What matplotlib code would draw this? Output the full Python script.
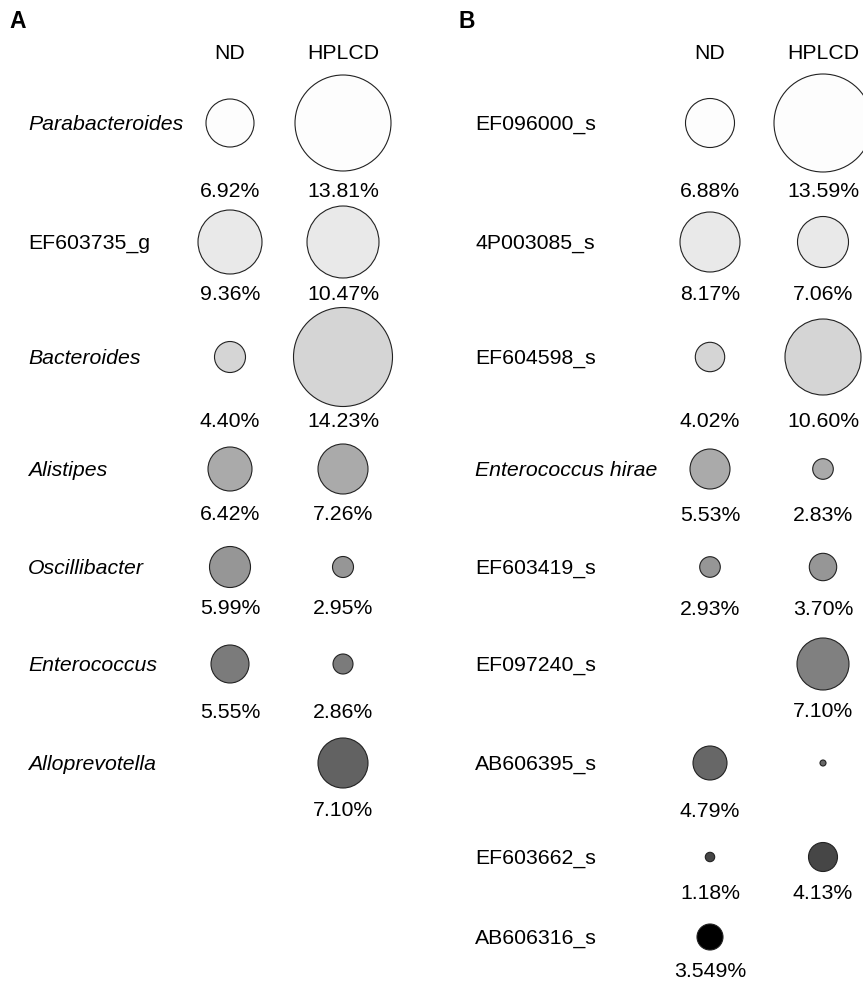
import matplotlib
matplotlib.use("Agg")
import matplotlib.pyplot as plt
from matplotlib.patches import Circle

plt.rcParams['font.family'] = ['Liberation Sans', 'DejaVu Sans']

# ---- data, panel A (genus level) ----
A_taxa = ['Parabacteroides', 'EF603735_g', 'Bacteroides', 'Alistipes',
          'Oscillibacter', 'Enterococcus', 'Alloprevotella']
A_italic = [True, False, True, True, True, True, True]
A_nd_pct = ['6.92%', '9.36%', '4.40%', '6.42%', '5.99%', '5.55%', None]
A_hp_pct = ['13.81%', '10.47%', '14.23%', '7.26%', '2.95%', '2.86%', '7.10%']
# bubble radii as drawn in the figure (not proportional to the values)
A_nd_size = [24, 32, 15.5, 22, 20.5, 19, 0]
A_hp_size = [48, 36, 49.5, 25, 10.5, 10, 25]
A_grey = ['#fdfdfd', '#e9e9e9', '#d5d5d5', '#aaaaaa', '#969696', '#7b7b7b', '#626262']

# ---- data, panel B (species level) ----
B_taxa = ['EF096000_s', '4P003085_s', 'EF604598_s', 'Enterococcus hirae',
          'EF603419_s', 'EF097240_s', 'AB606395_s', 'EF603662_s', 'AB606316_s']
B_italic = [False, False, False, True, False, False, False, False, False]
B_nd_pct = ['6.88%', '8.17%', '4.02%', '5.53%', '2.93%', None, '4.79%', '1.18%', '3.549%']
B_hp_pct = ['13.59%', '7.06%', '10.60%', '2.83%', '3.70%', '7.10%', None, '4.13%', None]
B_nd_size = [24.5, 30, 14.7, 20, 10.3, 0, 17, 4.7, 13]
B_hp_size = [49, 25.5, 38, 10.3, 13.7, 26, 3, 14.5, 0]
B_grey = ['#fdfdfd', '#e9e9e9', '#d5d5d5', '#aaaaaa', '#969696', '#808080',
          '#676767', '#464646', '#000000']

groups = ['ND', 'HPLCD']

# ---- layout (pixel canvas) ----
W, H = 863, 982
A_row_y = [123, 242, 357, 469, 567, 664, 763]
A_pct_y = [190, 293, 420, 513, 607, 711, 809]
B_row_y = [123, 242, 357, 469, 567, 664, 763, 857, 937]
B_pct_y = [190, 293, 420, 514, 608, 710, 810, 892, 970]

fig = plt.figure(figsize=(W / 100, H / 100), dpi=100)
ax = fig.add_axes([0, 0, 1, 1])
ax.set_xlim(0, W)
ax.set_ylim(H, 0)
ax.axis('off')

FS = 15.3
DY = 1.5  # nudge so cap height sits centred on the row


def panel(letter, letter_x, label_x, col_x, taxa, italic, nd_pct, hp_pct,
          nd_size, hp_size, grey, row_y, pct_y):
    ax.text(letter_x, 21, letter, fontsize=16.5, fontweight='bold',
            ha='left', va='center')
    for cx, g in zip(col_x, groups):
        ax.text(cx, 52 + DY, g, fontsize=FS, ha='center', va='center')
    for i, name in enumerate(taxa):
        ax.text(label_x, row_y[i] + DY, name, fontsize=FS, ha='left', va='center',
                style='italic' if italic[i] else 'normal')
        for cx, r, pct in zip(col_x, (nd_size[i], hp_size[i]), (nd_pct[i], hp_pct[i])):
            if r > 0:
                ax.add_patch(Circle((cx, row_y[i]), r, facecolor=grey[i],
                                    edgecolor='#222222', linewidth=0.8))
            if pct is not None:
                ax.text(cx, pct_y[i] + DY, pct, fontsize=FS, ha='center', va='center')


panel('A', 9, 28, (230, 343), A_taxa, A_italic, A_nd_pct, A_hp_pct,
      A_nd_size, A_hp_size, A_grey, A_row_y, A_pct_y)
panel('B', 458, 475, (710, 823), B_taxa, B_italic, B_nd_pct, B_hp_pct,
      B_nd_size, B_hp_size, B_grey, B_row_y, B_pct_y)

fig.savefig('out.png', dpi=100)
